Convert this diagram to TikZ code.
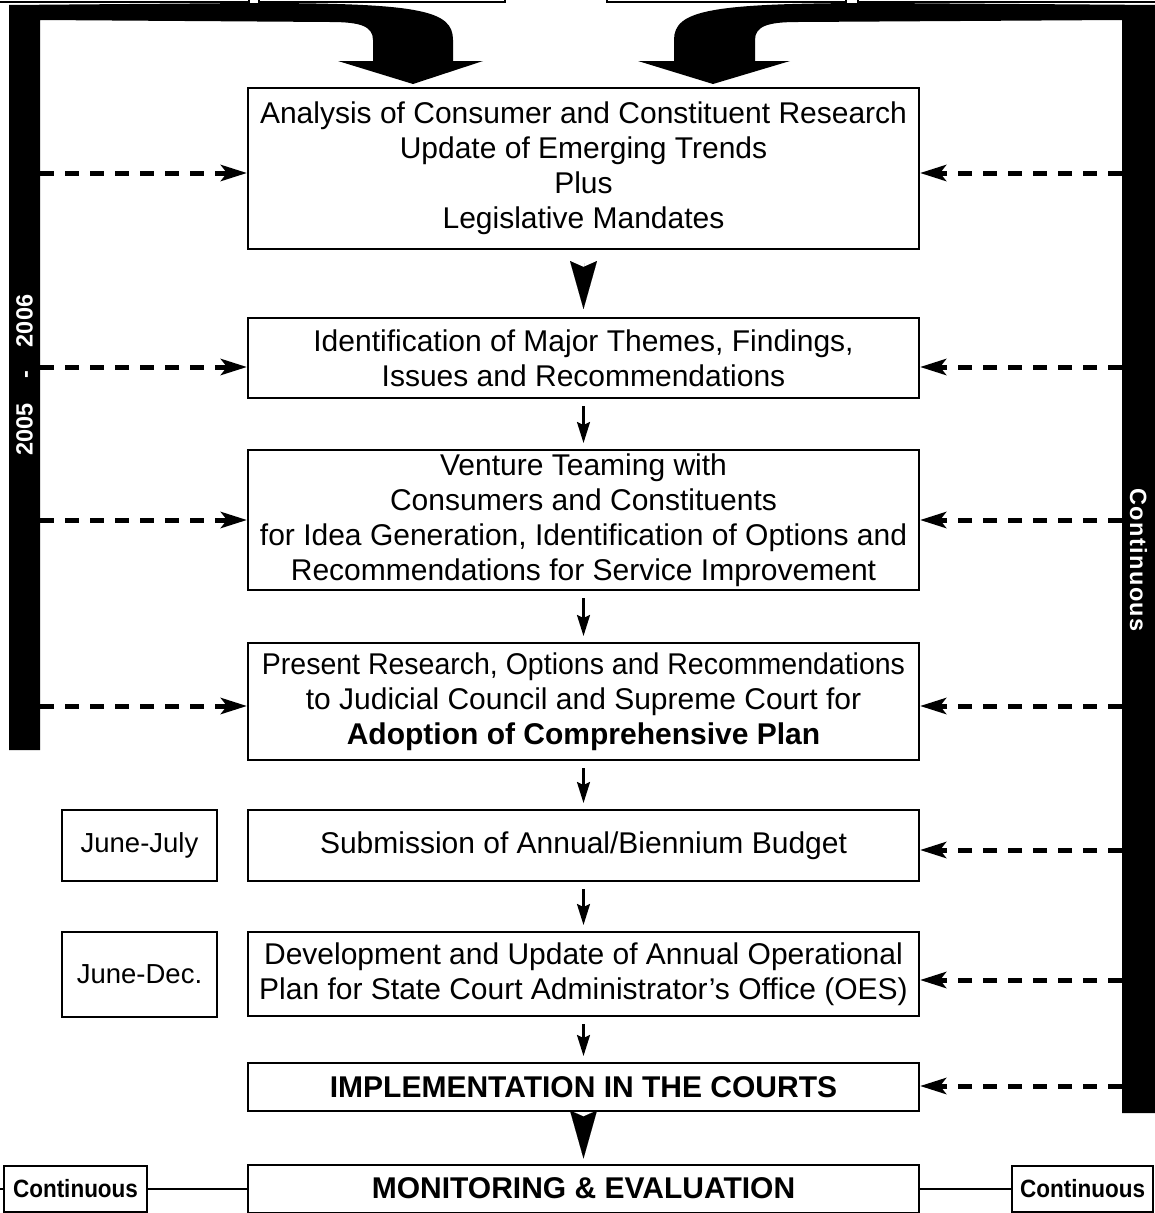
\documentclass[tikz,border=0pt]{standalone}
\usepackage{fontspec}
\setmainfont{Liberation Sans}
\usetikzlibrary{arrows.meta,calc}
\begin{document}
\begin{tikzpicture}[x=1pt,y=-1pt,
  mainbox/.style={draw, line width=2pt, minimum width=671pt, align=center, inner sep=0pt,
    font=\fontsize{30}{35}\selectfont},
  sidebox/.style={draw, line width=2pt, minimum width=155pt, align=center, inner sep=0pt,
    font=\fontsize{27.5}{32}\selectfont},
  contbox/.style={draw, line width=2pt, minimum height=46pt, inner sep=0pt,
    font=\fontsize{25}{29}\selectfont\bfseries},
  dasharr/.style={line width=5pt, dash pattern=on 14pt off 11pt,
    -{Stealth[length=26pt,width=16pt,inset=6pt]}},
  thinarr/.style={line width=2.2pt, shorten <=7pt, shorten >=6pt,
    -{Stealth[length=21pt,width=13pt,inset=3pt]}},
  dart/.style={line width=0.01pt, shorten <=13pt, shorten >=8pt,
    -{Stealth[length=48pt,width=27pt,inset=6pt]}},
  bartext/.style={white, inner sep=0pt, font=\fontsize{23.5}{27}\selectfont\bfseries},
]
\useasboundingbox (0,0) rectangle (1155,1213);
\clip (0,0) rectangle (1155,1213);

% boxes cut off at the top
\draw[line width=2pt] (-10,-40) rectangle (249,2);
\draw[line width=2pt] (259,-40) rectangle (505,2);
\draw[line width=2pt] (607,-40) rectangle (846,2);
\draw[line width=2pt] (858,-40) rectangle (1170,2);

% big bent arrows with side bars
\fill (9,5) -- (250,3) .. controls (420,3) and (453,10) .. (453,40) -- (453,61)
  -- (483,61) -- (413,84) -- (338,61) -- (373,61) -- (373,40)
  .. controls (373,26) and (360,22) .. (330,22) -- (40,20) -- (40,750) -- (9,750) -- cycle;
\fill (1160,5) -- (880,3) .. controls (710,3) and (674,10) .. (674,40) -- (674,61)
  -- (638,61) -- (713,84) -- (790,61) -- (755,61) -- (755,40)
  .. controls (755,26) and (768,22) .. (798,22) -- (1122,20) -- (1122,1113) -- (1160,1113) -- cycle;

\node[bartext, rotate=90] (ltxt) at (24.5,375) {2005\hspace{24pt}-\hspace{24pt}2006};
\node[bartext, rotate=-90] (rtxt) at (1138.5,560) {\addfontfeature{LetterSpace=6}Continuous};

% main boxes
\node[mainbox, minimum height=161pt] (b1) at (583.5,168.5)
  {Analysis of Consumer and Constituent Research\\Update of Emerging Trends\\Plus\\Legislative Mandates};
\node[mainbox, minimum height=80pt] (b2) at (583.5,358)
  {Identification of Major Themes, Findings,\\Issues and Recommendations};
\node[mainbox, minimum height=140pt] (b3) at (583.5,520)
  {Venture Teaming with\\Consumers and Constituents\\for Idea Generation, Identification of Options and\\Recommendations for Service Improvement};
\node[mainbox, minimum height=117pt] (b4) at (583.5,701.5)
  {\scalebox{0.95}[1]{Present Research, Options and Recommendations}\\to Judicial Council and Supreme Court for\\\textbf{Adoption of Comprehensive Plan}};
\node[mainbox, minimum height=71pt] (b5) at (583.5,845.5)
  {Submission of Annual/Biennium Budget};
\node[mainbox, minimum height=84pt] (b6) at (583.5,974)
  {Development and Update of Annual Operational\\Plan for State Court Administrator’s Office (OES)};
\node[mainbox, minimum height=48pt] (b7) at (583.5,1087)
  {\textbf{IMPLEMENTATION IN THE COURTS}};
\node[mainbox, minimum height=48pt] (b8) at (583.5,1188.5)
  {\textbf{MONITORING \& EVALUATION}};

% side boxes
\node[sidebox, minimum height=71pt] (j1) at (139.5,845.5) {June-July};
\node[sidebox, minimum height=85pt] (j2) at (139.5,974.5) {June-Dec.};
\node[contbox, minimum width=143pt] (c1) at (75.5,1188.5) {\scalebox{0.9}[1]{Continuous}};
\node[contbox, minimum width=141pt] (c2) at (1082.5,1188.5) {\scalebox{0.9}[1]{Continuous}};

% vertical flow
\draw[dart] (b1) -- (b2);
\draw[thinarr] (b2) -- (b3);
\draw[thinarr] (b3) -- (b4);
\draw[thinarr] (b4) -- (b5);
\draw[thinarr] (b5) -- (b6);
\draw[thinarr] (b6) -- (b7);
\draw[dart, shorten <=6pt, shorten >=5pt] (b7) -- (b8);

% bottom connections
\coordinate (cl) at (0,1188.5);
\draw[line width=2pt] (c1) -- (b8);
\draw[line width=2pt] (b8) -- (c2);
\draw[line width=2pt] (c1.west) -- (cl);

% dashed arrows from the left bar
\foreach \y/\b in {173/b1,367/b2,520/b3,706/b4}{
  \coordinate (L\b) at (40,\y);
  \draw[dasharr] (L\b) -- (\b.west |- L\b);
}
% dashed arrows from the right bar
\foreach \y/\b in {173/b1,367/b2,520/b3,706/b4,850/b5,980/b6,1086/b7}{
  \coordinate (R\b) at (1122,\y);
  \draw[dasharr] (R\b) -- (\b.east |- R\b);
}
\end{tikzpicture}
\end{document}
